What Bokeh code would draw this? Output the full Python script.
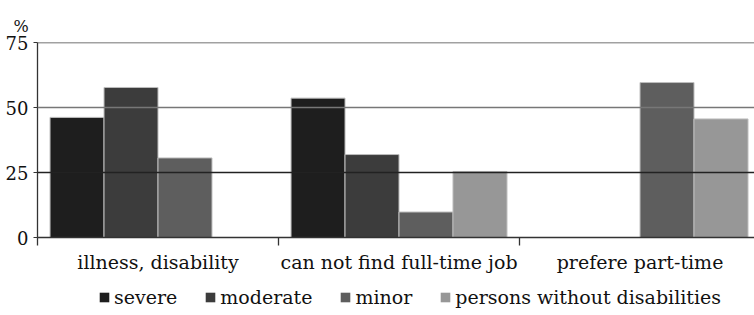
from bokeh.plotting import figure
from bokeh.layouts import column
from bokeh.models import Range1d, FixedTicker, Legend, LegendItem, Span, ColumnDataSource
from bokeh.embed import file_html
from bokeh.resources import INLINE

categories = ["illness, disability", "can not find full-time job", "prefere part-time"]
series = ["severe", "moderate", "minor", "persons without disabilities"]
severe = [46.2, 53.6, float("nan")]
moderate = [57.7, 31.9, float("nan")]
minor = [30.6, 9.8, 59.6]
without = [float("nan"), 25.4, 45.6]
yticks = [0, 25, 50, 75]

colors = ["#1e1e1e", "#3c3c3c", "#5e5e5e", "#979797"]
grid_colors = ["#222222", "#222222", "#777777", "#444444"]
FONT = "DejaVu Serif"

p = figure(frame_width=717, frame_height=195, output_backend="svg", toolbar_location=None,
           x_range=Range1d(0, 2.975), y_range=Range1d(0, 75),
           min_border_left=37, min_border_right=0, min_border_top=42, min_border_bottom=0,
           title="%")
p.title.text_font = FONT
p.title.text_font_style = "normal"
p.title.text_font_size = "16px"
p.title.text_color = "#111111"
p.title.align = "left"
p.title.offset = -24
p.title.standoff = 14
p.outline_line_color = None
p.xgrid.visible = False
p.ygrid.visible = False

bw = 0.224
offsets = [-0.336, -0.112, 0.112, 0.336]
for vals, off, c in zip([severe, moderate, minor, without], offsets, colors):
    xs = [i + 0.5 + off for i in range(len(categories))]
    src = ColumnDataSource(dict(x=xs, top=vals))
    p.vbar(x="x", top="top", width=bw, bottom=0, source=src, fill_color=c,
           line_color="#bdbdbd", line_width=1)

for t, gc in zip(yticks[1:], grid_colors[1:]):
    p.add_layout(Span(location=t, dimension="width", line_color=gc, line_width=1.3))

# x axis
xa = p.xaxis[0]
xa.ticker = FixedTicker(ticks=[i + 0.5 for i in range(len(categories))],
                        minor_ticks=list(range(len(categories))))
xa.major_label_overrides = {i + 0.5: c for i, c in enumerate(categories)}
xa.major_tick_line_color = None
xa.major_tick_out = 0
xa.major_tick_in = 0
xa.minor_tick_in = 0
xa.minor_tick_out = 8
xa.minor_tick_line_color = "#333333"
xa.minor_tick_line_width = 1.3
xa.axis_line_color = "#333333"
xa.axis_line_width = 1.3
xa.major_label_text_font = FONT
xa.major_label_text_font_size = "19px"
xa.major_label_text_color = "#111111"
xa.major_label_standoff = 5

ya = p.yaxis[0]
ya.ticker = FixedTicker(ticks=yticks)
ya.minor_tick_line_color = None
ya.major_tick_in = 0
ya.major_tick_out = 4
ya.major_tick_line_color = "#333333"
ya.axis_line_color = "#333333"
ya.axis_line_width = 1.3
ya.major_label_text_font = FONT
ya.major_label_text_font_size = "18px"
ya.major_label_text_color = "#111111"
ya.major_label_standoff = 5

# legend in its own strip below the chart (zero-height proxy glyphs outside its visible range)
lg = figure(frame_width=717, frame_height=40, output_backend="svg", toolbar_location=None,
            x_range=Range1d(0, 1), y_range=Range1d(0, 1),
            x_axis_location=None, y_axis_location=None,
            min_border_left=37, min_border_right=0, min_border_top=0, min_border_bottom=0)
lg.grid.visible = False
lg.outline_line_color = None
items = []
for s, c in zip(series, colors):
    r = lg.vbar(x=[-5], top=[0], width=0.1, fill_color=c, line_color=None)
    items.append(LegendItem(label=s, renderers=[r]))
legend = Legend(items=items, orientation="horizontal", location=(61, 7),
                glyph_width=12, glyph_height=12, label_standoff=4, spacing=27,
                label_text_font=FONT, label_text_font_size="19px", label_text_color="#111111",
                border_line_color=None, background_fill_alpha=0, margin=0, padding=0)
lg.add_layout(legend)

open("out.html", "w").write(file_html(column(p, lg, spacing=0), INLINE))
